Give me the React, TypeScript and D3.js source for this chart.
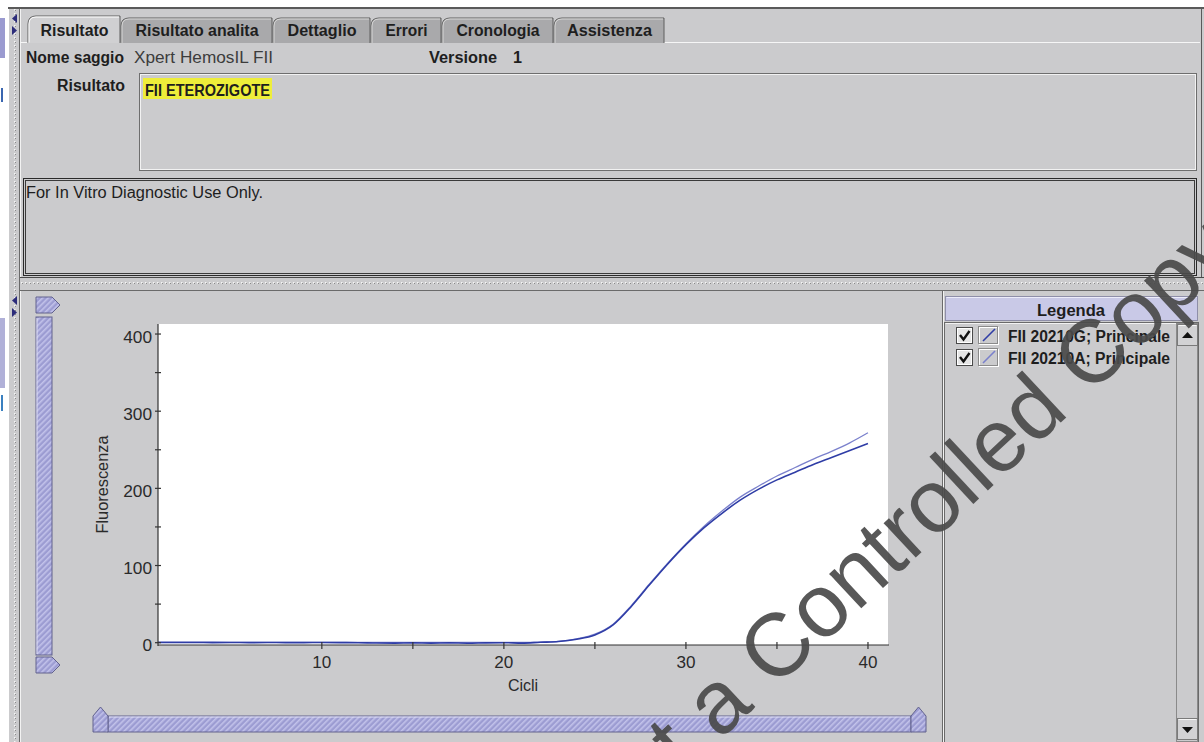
import React from "react";
import * as d3 from "d3";

// ---- data ----
const cycles = [
  1, 2, 3, 4, 5, 6, 7, 8, 9, 10, 11, 12, 13, 14, 15, 16, 17, 18, 19, 20,
  21, 22, 23, 24, 25, 26, 27, 28, 29, 30, 31, 32, 33, 34, 35, 36, 37, 38, 39, 40,
];
// FII 20210G (darker curve)
const fluorG = [
  0.3, 0.2, 0.2, 0.1, 0.2, 0.1, 0.2, 0.1, 0.1, 0.2, 0.1, 0.0, -0.5, -0.6, -0.2, -0.6, -0.3, -0.7, -0.2, 0.0,
  -0.6, 0.5, 1.5, 4.5, 10, 23, 47, 75, 102, 127, 149, 168, 185, 199, 211, 221, 231, 240, 249, 258,
];
// FII 20210A (lighter curve)
const fluorA = [
  0.8, 0.7, 0.6, 0.6, 0.5, 0.5, 0.5, 0.4, 0.4, 0.4, 0.4, 0.3, 0.3, 0.3, 0.3, 0.3, 0.3, 0.3, 0.3, 0.4,
  0.4, 0.8, 1.8, 5, 11, 24, 48, 76, 103, 128, 151, 171, 189, 203, 216, 227, 238, 248, 259, 272,
];
const yTicksMajor = [0, 100, 200, 300, 400];
const yTicksMinor = [50, 150, 250, 350];
const xTicksMajor = [10, 20, 30, 40];
const xTicksMinor = [15, 25, 35];
const tabLabels = ["Risultato", "Risultato analita", "Dettaglio", "Errori", "Cronologia", "Assistenza"];
const legendLabels = ["FII 20210G; Principale", "FII 20210A; Principale"];

// ---- layout ----
const W = 1204;
const H = 742;
const FONT = "'Liberation Sans', Arial, Helvetica, sans-serif";
const BG = "#cbcbcd";
const plot = { left: 158, right: 888, top: 324, bottom: 645 };
const tabEdges = [28, 121, 273, 371, 442, 554, 665];
const tabTextW = [68, 123, 69, 42, 83, 85];
const seriesColors = ["#2f3da6", "#7a80cc"];

const Txt = (p: any) => {
  const { w, children, ...rest } = p;
  return (
    <text
      fontFamily={FONT}
      fontSize={16}
      fill="#1e1e1e"
      {...(w ? { textLength: w, lengthAdjust: "spacingAndGlyphs" } : {})}
      {...rest}
    >
      {children}
    </text>
  );
};

const App = () => {
  const x = d3.scaleLinear().domain([1, 41.1]).range([plot.left, plot.right]);
  const y = d3.scaleLinear().domain([-3, 413]).range([plot.bottom, plot.top]);

  const line = d3
    .line<number>()
    .x((_, i) => x(cycles[i]))
    .y((d) => y(d))
    .curve(d3.curveMonotoneX);

  // vertical slider on the left
  const vs = { x0: 36, x1: 52, top: 297, bottom: 673 };
  // horizontal slider at the bottom
  const hs = { x0: 93, x1: 926, top: 716, bottom: 732 };

  return (
    <div style={{ position: "fixed", left: 0, top: 0, width: W, height: H }}>
      <svg width={W} height={H} viewBox={`0 0 ${W} ${H}`} style={{ display: "block" }}>
        <defs>
          <pattern id="hatch" width="4" height="4" patternUnits="userSpaceOnUse" patternTransform="rotate(45)">
            <rect width="4" height="4" fill="#9c9cd2" />
            <rect width="1.6" height="4" fill="#c2c2ea" />
          </pattern>
          <pattern id="dotsH" width="4" height="12" patternUnits="userSpaceOnUse">
            <rect width="4" height="12" fill={BG} />
            <rect x="1" y="6" width="1.5" height="1.5" fill="#f4f4f4" />
            <rect x="2" y="7" width="1" height="1" fill="#8a8a8a" />
          </pattern>
          <pattern id="dotsV" width="10" height="4" patternUnits="userSpaceOnUse">
            <rect width="10" height="4" fill={BG} />
            <rect x="4" y="1" width="1.5" height="1.5" fill="#f4f4f4" />
            <rect x="5" y="2" width="1" height="1" fill="#8a8a8a" />
          </pattern>
        </defs>

        {/* background */}
        <rect width={W} height={H} fill={BG} />
        <rect x={0} y={0} width={W} height={7} fill="#ffffff" />
        <rect x={0} y={0} width={9} height={H} fill="#ffffff" />
        <rect x={0} y={18} width={5} height={40} fill="#9a9ad0" />
        <rect x={1} y={88} width={2} height={14} fill="#3a66b0" />
        <rect x={0} y={318} width={5} height={70} fill="#b0b0d8" />
        <rect x={1} y={395} width={2} height={16} fill="#3a80c0" />
        <rect x={8} y={7} width={W - 8} height={2} fill="#5a5a5a" />

        {/* left splitter */}
        <rect x={9} y={9} width={10} height={H - 9} fill="url(#dotsV)" />
        <line x1={19.5} y1={9} x2={19.5} y2={H} stroke="#6a6a6a" />
        <line x1={20.5} y1={9} x2={20.5} y2={H} stroke="#f2f2f2" />
        {[14, 296].map((t) => (
          <g key={t} fill="#2c2c7a">
            <path d={`M17,${t} L12,${t + 4.5} L17,${t + 9} Z`} />
            <path d={`M12,${t + 12} L17,${t + 16.5} L12,${t + 21} Z`} />
          </g>
        ))}

        {/* top panel */}
        <line x1={1201.5} y1={9} x2={1201.5} y2={277} stroke="#5a5a5a" />
        <line x1={20} y1={42.5} x2={1200} y2={42.5} stroke="#f6f6f6" />
        {tabLabels.map((t, i) => {
          const x0 = tabEdges[i];
          const x1 = tabEdges[i + 1];
          const sel = i === 0;
          const top = sel ? 16 : 18;
          return (
            <g key={t}>
              <path
                d={`M${x0},43 L${x0},${top + 8} Q${x0},${top} ${x0 + 8},${top} L${x1 - 1},${top} L${x1 - 1},43`}
                fill={sel ? "#d0d0d2" : "#a9a9ab"}
                stroke="#5e5e5e"
              />
              <path
                d={`M${x0 + 1},43 L${x0 + 1},${top + 8} Q${x0 + 1},${top + 1} ${x0 + 8},${top + 1} L${x1 - 2},${top + 1}`}
                fill="none"
                stroke={sel ? "#ffffff" : "#d8d8d8"}
              />
              <Txt x={(x0 + x1) / 2} y={36} textAnchor="middle" fontWeight="bold" w={tabTextW[i]}>
                {t}
              </Txt>
            </g>
          );
        })}
        {/* selected tab merges with content */}
        <line x1={tabEdges[0] + 1.5} y1={42.5} x2={tabEdges[1] - 2} y2={42.5} stroke="#d0d0d2" />

        <Txt x={26} y={63} fontWeight="bold" w={98}>Nome saggio</Txt>
        <Txt x={134} y={63} fill="#3c3c3c" w={139}>Xpert HemosIL FII</Txt>
        <Txt x={429} y={63} fontWeight="bold" w={68}>Versione</Txt>
        <Txt x={513} y={63} fontWeight="bold" w={9}>1</Txt>
        <Txt x={57} y={91} fontWeight="bold" w={68}>Risultato</Txt>

        {/* result box */}
        <rect x={139.5} y={73.5} width={1057} height={97} fill={BG} stroke="#6e6e6e" />
        <rect x={140.5} y={74.5} width={1055} height={95} fill="none" stroke="#f2f2f2" />
        <rect x={143} y={78} width={129} height={21} fill="#eeee3a" />
        <Txt x={145} y={96} fontWeight="bold" fontSize={17} w={125}>FII ETEROZIGOTE</Txt>

        {/* disclaimer box */}
        <rect x={23.5} y={178.5} width={1173} height={97} fill={BG} stroke="#2a2a2a" strokeWidth={1} />
        <rect x={25.5} y={180.5} width={1169} height={93} fill="none" stroke="#3a3a3a" />
        <Txt x={26} y={198} w={237}>For In Vitro Diagnostic Use Only.</Txt>

        {/* horizontal splitter */}
        <rect x={20} y={277} width={W - 20} height={13} fill="url(#dotsH)" />
        <line x1={20} y1={277.5} x2={W} y2={277.5} stroke="#4a4a4a" />
        <line x1={20} y1={290.5} x2={W} y2={290.5} stroke="#6a6a6a" />

        {/* vertical slider */}
        <rect x={vs.x0} y={317} width={vs.x1 - vs.x0} height={338} fill="url(#hatch)" stroke="#62628e" />
        <line x1={vs.x0 + 1} y1={318} x2={vs.x0 + 1} y2={654} stroke="#e0e0f4" />
        {[vs.top, 657].map((t) => (
          <path
            key={t}
            d={`M${vs.x0},${t} L${vs.x1},${t} L${vs.x1 + 8},${t + 8} L${vs.x1},${t + 16} L${vs.x0},${t + 16} Z`}
            fill="url(#hatch)"
            stroke="#62628e"
          />
        ))}

        {/* horizontal slider */}
        <rect x={108} y={hs.top} width={803} height={hs.bottom - hs.top} fill="url(#hatch)" stroke="#62628e" />
        <line x1={109} y1={hs.top + 1} x2={910} y2={hs.top + 1} stroke="#e0e0f4" />
        {[hs.x0, 911].map((l) => (
          <path
            key={l}
            d={`M${l},${hs.bottom} L${l},${hs.top} L${l + 7.5},${hs.top - 9} L${l + 15},${hs.top} L${l + 15},${hs.bottom} Z`}
            fill="url(#hatch)"
            stroke="#62628e"
          />
        ))}

        {/* plot */}
        <rect x={plot.left} y={plot.top} width={plot.right - plot.left} height={plot.bottom - plot.top} fill="#ffffff" />
        {[fluorA, fluorG].map((s, i) => (
          <path
            key={i}
            d={line(s) || ""}
            fill="none"
            stroke={i === 0 ? seriesColors[1] : seriesColors[0]}
            strokeWidth={i === 0 ? 1.3 : 1.6}
          />
        ))}
        <g stroke="#333" strokeWidth={1.2}>
          <line x1={plot.left} y1={plot.top} x2={plot.left} y2={plot.bottom + 1} />
          <line x1={plot.left} y1={plot.bottom} x2={plot.right + 1} y2={plot.bottom} />
          {[...yTicksMajor, ...yTicksMinor].map((t) => (
            <line key={"y" + t} x1={plot.left - 3} x2={plot.left + 3} y1={y(t)} y2={y(t)} />
          ))}
          {[...xTicksMajor, ...xTicksMinor].map((t) => (
            <line key={"x" + t} x1={x(t)} x2={x(t)} y1={plot.bottom - 3} y2={plot.bottom + 4} />
          ))}
        </g>
        {yTicksMajor.map((t) => (
          <Txt key={t} x={152} y={y(t) + 8.5} textAnchor="end" fill="#2a2a2a" w={String(t).length * 9.6}>
            {t}
          </Txt>
        ))}
        {xTicksMajor.map((t) => (
          <Txt key={t} x={x(t)} y={668} textAnchor="middle" fill="#2a2a2a" w={19}>
            {t}
          </Txt>
        ))}
        <Txt x={523} y={691} textAnchor="middle" fill="#2a2a2a">Cicli</Txt>
        <Txt
          transform={`translate(108,${(plot.top + plot.bottom) / 2}) rotate(-90)`}
          textAnchor="middle"
          fill="#2a2a2a"
          w={98}
        >
          Fluorescenza
        </Txt>

        {/* legend panel */}
        <line x1={942.5} y1={291} x2={942.5} y2={H} stroke="#6a6a6a" />
        <line x1={943.5} y1={291} x2={943.5} y2={H} stroke="#f2f2f2" />
        <rect x={945.5} y={296.5} width={252} height={24} fill="#c9c9e7" stroke="#8e8ea8" />
        <line x1={946.5} y1={297.5} x2={1196.5} y2={297.5} stroke="#ececfa" />
        <Txt x={1071} y={316} textAnchor="middle" fontWeight="bold" w={68}>Legenda</Txt>
        <rect x={944.5} y={322.5} width={254} height={H} fill={BG} stroke="#6a6a6a" />
        <line x1={945.5} y1={323.5} x2={1197.5} y2={323.5} stroke="#f2f2f2" />

        {/* scrollbar */}
        <rect x={1176.5} y={323.5} width={21} height={H - 324} fill={BG} stroke="#8a8a8a" />
        {[{ t: 324, up: true }, { t: 718, up: false }].map((b) => (
          <g key={b.t}>
            <rect x={1177.5} y={b.t + 0.5} width={20} height={21} fill="#d2d2d4" stroke="#7a7a7a" />
            <line x1={1178.5} y1={b.t + 1.5} x2={1196.5} y2={b.t + 1.5} stroke="#f6f6f6" />
            <path
              d={
                b.up
                  ? `M1182,${b.t + 14} L1193,${b.t + 14} L1187.5,${b.t + 8} Z`
                  : `M1182,${b.t + 9} L1193,${b.t + 9} L1187.5,${b.t + 15} Z`
              }
              fill="#111"
            />
          </g>
        ))}

        {legendLabels.map((l, i) => {
          const top = 327 + i * 22;
          return (
            <g key={l}>
              <rect x={956.5} y={top + 0.5} width={16} height={16} fill="#e6e6e6" stroke="#4a4a4a" />
              <rect x={957.5} y={top + 1.5} width={14} height={14} fill="none" stroke="#ffffff" />
              <path
                d={`M960,${top + 8} L963.5,${top + 12.5} L969.5,${top + 4}`}
                fill="none"
                stroke="#111"
                strokeWidth={2.4}
              />
              <rect x={979.5} y={top + 0.5} width={19} height={17} fill={BG} stroke="#ffffff" />
              <rect x={978.5} y={top - 0.5} width={19} height={17} fill="none" stroke="#8a8a8a" />
              <line
                x1={983}
                y1={top + 14}
                x2={995}
                y2={top + 2}
                stroke={seriesColors[i]}
                strokeWidth={1.6}
              />
              <Txt x={1008} y={342 + i * 22} fontWeight="bold" w={162}>
                {l}
              </Txt>
            </g>
          );
        })}

        {/* watermark */}
        <text
          transform="translate(600,852) rotate(-43)"
          fontFamily={FONT}
          fontSize={89}
          fill="#4a4a4a"
          fillOpacity={0.92}
        >
          Not a Controlled Copy
        </text>
      </svg>
    </div>
  );
};

export default App;
